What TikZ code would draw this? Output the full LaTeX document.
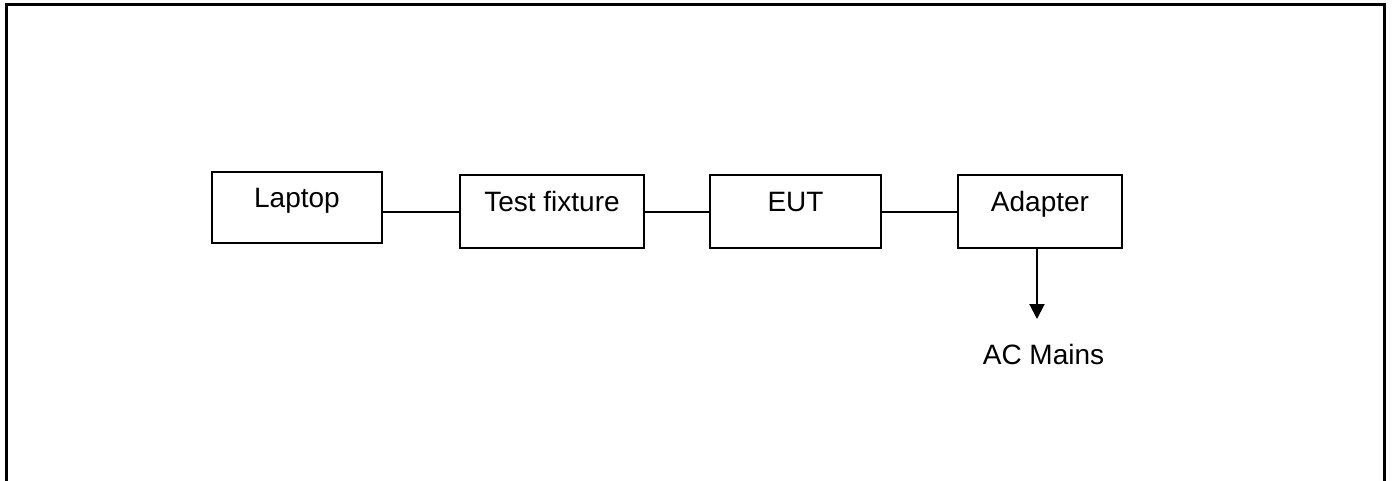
\documentclass[tikz,border=0pt]{standalone}
\usepackage{fontspec}
\setmainfont{Liberation Sans}
\usetikzlibrary{arrows.meta}
\begin{document}
\begin{tikzpicture}[x=1pt,y=-1pt,
  box/.style={draw,line width=2pt,inner sep=0pt,minimum width=#1,text height=20pt,text depth=20pt,minimum height=72pt,font=\fontsize{28}{32}\selectfont},
  wire/.style={line width=2pt},
  lbl/.style={font=\fontsize{28}{32}\selectfont,inner sep=0pt}]
\useasboundingbox (0,0) rectangle (1393,480);
\draw[line width=3pt] (6,482) -- (6,4) -- (1384,4) -- (1384,482);
\node[box=170pt,minimum height=71pt] (lap) at (297,207.5) {Laptop};
\node[box=184pt,minimum height=73pt] (tf) at (552,211.5) {Test fixture};
\node[box=171pt,minimum height=73pt] (eut) at (795.5,211.5) {EUT};
\node[box=164pt,minimum height=73pt] (ad) at (1040,211.5) {Adapter};
\draw[wire] (lap.east |- tf.west) -- (tf.west);
\draw[wire] (tf.east) -- (eut.west);
\draw[wire] (eut.east) -- (ad.west);
\coordinate (tip) at (1037,319);
\draw[wire,-{Triangle[length=15pt,width=15pt]}] (ad.south -| tip) -- (tip);
\node[lbl,anchor=base] (ac) at (1043.5,364) {AC Mains};
\end{tikzpicture}
\end{document}
